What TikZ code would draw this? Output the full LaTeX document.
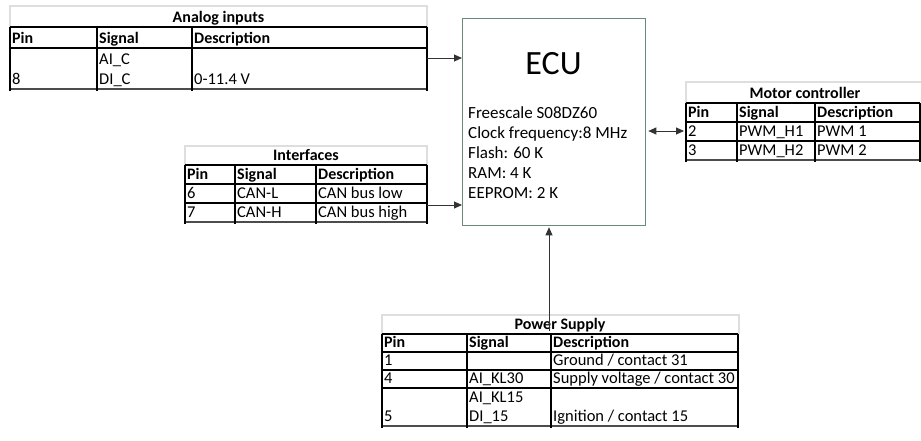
\documentclass[tikz,border=0pt]{standalone}
\usepackage{fontspec}
\setmainfont{Carlito}
\usetikzlibrary{arrows.meta}
\definecolor{ecugreen}{RGB}{104,138,118}
\definecolor{titlegray}{RGB}{222,222,222}
\begin{document}
\begin{tikzpicture}[x=1pt,y=-1pt,
  gridline/.style={line width=1.5pt, black},
  botline/.style={line width=1.1pt, black!70},
  titlecell/.style={draw=titlegray, line width=1.3pt},
  txt/.style={anchor=base west, inner sep=0pt, font=\fontsize{16.5}{20}\selectfont},
  bold/.style={anchor=base west, inner sep=0pt, font=\fontsize{16}{20}\selectfont\bfseries},
  ttl/.style={anchor=base, inner sep=0pt, font=\fontsize{16}{20}\selectfont\bfseries},
  ecutxt/.style={anchor=base west, inner sep=0pt, font=\fontsize{17}{20}\selectfont},
  ecubox/.style={draw=ecugreen, line width=1.3pt, minimum width=183pt, minimum height=207pt, anchor=north west, inner sep=0pt},
  arr/.style={draw=black!80, line width=0.9pt, -{Triangle[length=8pt,width=7pt]}},
  darr/.style={draw=black!80, line width=0.9pt, {Triangle[length=8pt,width=7pt]}-{Triangle[length=8pt,width=7pt]}}
]
\useasboundingbox[fill=white] (0,0) rectangle (921,440);

% ---------------- ECU ----------------
\node[ecubox] (ecu) at (462,18) {};
\node[anchor=base, inner sep=0pt, font=\fontsize{34}{38}\selectfont] (ecut) at (553.5,74) {ECU};
\node[ecutxt] (e1) at (468,118) {Freescale S08DZ60};
\node[ecutxt] (e2) at (468,138) {Clock frequency:8 MHz};
\node[ecutxt] (e3) at (468,158) {Flash: 60 K};
\node[ecutxt] (e4) at (468,178) {RAM: 4 K};
\node[ecutxt] (e5) at (468,198) {EEPROM: 2 K};

% ---------------- Analog inputs ----------------
\draw[titlecell] (10,27) -- (10,6) -- (427,6) -- (427,27);
\foreach \y in {27,48} \draw[gridline] (10,\y) -- (427,\y);
\draw[botline] (10,89) -- (427,89);
\foreach \x in {10,97,192,427} \draw[gridline] (\x,27) -- (\x,91);
\node[ttl] (ait) at (218.5,22.5) {Analog inputs};
\node[bold] (aih1) at (12,43.5) {Pin};
\node[bold] (aih2) at (99,43.5) {Signal};
\node[bold] (aih3) at (194,43.5) {Description};
\node[txt] (aic1) at (12,84.5) {8};
\node[txt] (aic2a) at (99,64.5) {AI\_C};
\node[txt] (aic2b) at (99,84.5) {DI\_C};
\node[txt] (aic3) at (194,84.5) {0-11.4 V};
\coordinate (aiout) at (427,58);

% ---------------- Interfaces ----------------
\draw[titlecell] (185,165) -- (185,146) -- (427,146) -- (427,165);
\foreach \y in {165,184,203} \draw[gridline] (185,\y) -- (427,\y);
\draw[botline] (185,222) -- (427,222);
\foreach \x in {185,235,316,427} \draw[gridline] (\x,165) -- (\x,224);
\node[ttl] (ift) at (306,160.5) {Interfaces};
\node[bold] (ifh1) at (187,179.5) {Pin};
\node[bold] (ifh2) at (237,179.5) {Signal};
\node[bold] (ifh3) at (318,179.5) {Description};
\node[txt] (if11) at (187,198.5) {6};
\node[txt] (if12) at (237,198.5) {CAN-L};
\node[txt] (if13) at (318,198.5) {CAN bus low};
\node[txt] (if21) at (187,217.5) {7};
\node[txt] (if22) at (237,217.5) {CAN-H};
\node[txt] (if23) at (318,217.5) {CAN bus high};
\coordinate (ifout) at (427,205);

% ---------------- Motor controller ----------------
\draw[titlecell] (686,103) -- (686,82) -- (921,82);
\foreach \y in {103,122,141} \draw[gridline] (686,\y) -- (920,\y);
\draw[botline] (686,160) -- (920,160);
\foreach \x in {686,737,815,920} \draw[gridline] (\x,103) -- (\x,162);
\node[ttl] (mct) at (805,98) {Motor controller};
\node[bold] (mch1) at (688,117.5) {Pin};
\node[bold] (mch2) at (739,117.5) {Signal};
\node[bold] (mch3) at (817,117.5) {Description};
\node[txt] (mc11) at (688,136.5) {2};
\node[txt] (mc12) at (739,136.5) {PWM\_H1};
\node[txt] (mc13) at (817,136.5) {PWM 1};
\node[txt] (mc21) at (688,155.5) {3};
\node[txt] (mc22) at (739,155.5) {PWM\_H2};
\node[txt] (mc23) at (817,155.5) {PWM 2};
\coordinate (mcin) at (684,131);

% ---------------- Power Supply ----------------
\draw[titlecell] (382,334) -- (382,315) -- (739,315) -- (739,334);
\foreach \y in {334,352,370,388} \draw[gridline] (382,\y) -- (738,\y);
\draw[botline] (382,426) -- (738,426);
\foreach \x in {382,467,551,738} \draw[gridline] (\x,334) -- (\x,428);
\node[ttl] (pst) at (560,329.5) {Power Supply};
\node[bold] (psh1) at (384,347.5) {Pin};
\node[bold] (psh2) at (469,347.5) {Signal};
\node[bold] (psh3) at (553,347.5) {Description};
\node[txt] (ps11) at (384,365.5) {1};
\node[txt] (ps13) at (553,365.5) {Ground / contact 31};
\node[txt] (ps21) at (384,383.5) {4};
\node[txt] (ps22) at (469,383.5) {AI\_KL30};
\node[txt] (ps23) at (553,383.5) {Supply voltage / contact 30};
\node[txt] (ps31) at (384,421.5) {5};
\node[txt] (ps32a) at (469,402) {AI\_KL15};
\node[txt] (ps32b) at (469,421.5) {DI\_15};
\node[txt] (ps33) at (553,421.5) {Ignition / contact 15};
\coordinate (psout) at (549,331);

% ---------------- Connectors ----------------
\draw[arr] (aiout) -- (ecu.west |- aiout);
\draw[arr] (ifout) -- (ecu.west |- ifout);
\draw[darr] ([xshift=2pt]ecu.east |- mcin) -- (mcin);
\draw[arr] (psout) -- ([yshift=-1pt]ecu.south -| psout);
\end{tikzpicture}
\end{document}
